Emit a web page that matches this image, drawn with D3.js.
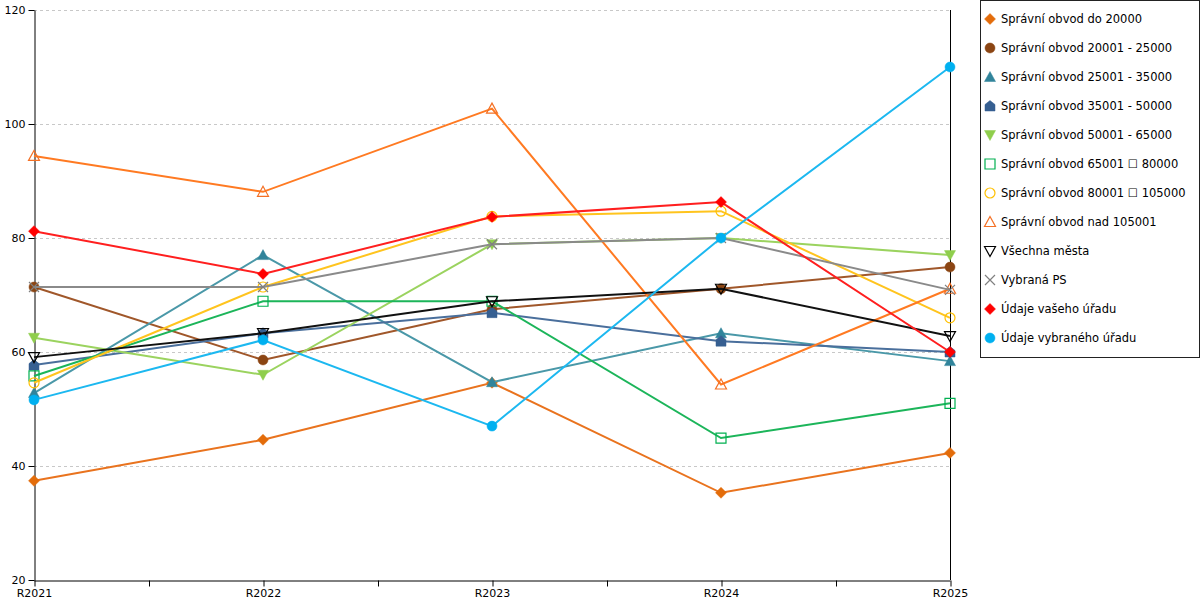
<!DOCTYPE html>
<html>
<head>
<meta charset="utf-8">
<script src="https://cdn.jsdelivr.net/npm/d3@7"></script>
<style>
  body { margin: 0; background: #fff; }
  svg { font-family: "DejaVu Sans", Verdana, sans-serif; }
  .grid line { stroke: #c8c8c8; stroke-dasharray: 3,3; }
</style>
</head>
<body>
<div id="chart"></div>
<script>
// data
var categories = ["R2021", "R2022", "R2023", "R2024", "R2025"];
var yTicks = [20, 40, 60, 80, 100, 120];

var seriesNames = [
  "Správní obvod do 20000",
  "Správní obvod 20001 - 25000",
  "Správní obvod 25001 - 35000",
  "Správní obvod 35001 - 50000",
  "Správní obvod 50001 - 65000",
  "Správní obvod 65001 \u2610 80000",
  "Správní obvod 80001 \u2610 105000",
  "Správní obvod nad 105001",
  "Všechna města",
  "Vybraná PS",
  "Údaje vašeho úřadu",
  "Údaje vybraného úřadu"
];

var do20000    = [37.4, 44.6, 54.6, 35.3, 42.3];
var s20_25     = [71.4, 58.6, 67.5, 71.1, 74.9];
var s25_35     = [52.8, 77.0, 54.7, 63.3, 58.4];
var s35_50     = [57.7, 63.3, 66.9, 61.9, 60.0];
var s50_65     = [62.5, 56.0, 78.9, 80.0, 77.0];
var s65_80     = [55.8, 68.9, 68.9, 44.9, 51.0];
var s80_105    = [54.6, 71.4, 83.8, 84.7, 66.0];
var nad105001  = [94.4, 88.1, 102.7, 54.3, 71.1];
var vsechna    = [59.1, 63.3, 68.9, 71.1, 62.8];
var vybranaPS  = [71.4, 71.4, 78.9, 80.0, 70.9];
var vasUrad    = [81.2, 73.7, 83.7, 86.3, 60.0];
var vybranyUrad = [51.6, 62.1, 47.0, 80.0, 110.0];

var seriesValues = [do20000, s20_25, s25_35, s35_50, s50_65, s65_80,
                    s80_105, nad105001, vsechna, vybranaPS, vasUrad, vybranyUrad];

// styles per series
var styles = [
  { line: "#e9731e", mark: "#e36c0a", shape: "diamond", fill: true },
  { line: "#a0572a", mark: "#8b4513", shape: "circle", fill: true },
  { line: "#4a98a8", mark: "#31849b", shape: "triUp", fill: true },
  { line: "#4a6f9c", mark: "#365f91", shape: "house", fill: true },
  { line: "#9bd35f", mark: "#8fce4c", shape: "triDown", fill: true },
  { line: "#1cb55a", mark: "#00b050", shape: "square", fill: false },
  { line: "#ffc41e", mark: "#ffc000", shape: "circle", fill: false },
  { line: "#ff7a22", mark: "#f47024", shape: "triUp", fill: false },
  { line: "#111111", mark: "#000000", shape: "triDown", fill: false },
  { line: "#8a8a8a", mark: "#808080", shape: "cross", fill: false },
  { line: "#ff1f1f", mark: "#ff0000", shape: "diamond", fill: true },
  { line: "#1cb8f0", mark: "#00b0f0", shape: "circle", fill: true }
];

function shapePath(shape) {
  var r = 5;
  switch (shape) {
    case "diamond": r = 5.5; return "M0," + (-r) + "L" + r + ",0L0," + r + "L" + (-r) + ",0Z";
    case "circle": return d3.arc()({ innerRadius: 0, outerRadius: r, startAngle: 0, endAngle: 2 * Math.PI });
    case "triUp": return "M0,-5.5L5.5,4.5L-5.5,4.5Z";
    case "triDown": return "M0,5.5L5.5,-4.5L-5.5,-4.5Z";
    case "house": return "M0,-5.5L5,-1.5L5,5L-5,5L-5,-1.5Z";
    case "square": return "M-5,-5L5,-5L5,5L-5,5Z";
    case "cross": return "M-5,-5L5,5M5,-5L-5,5";
  }
}

var width = 1200, height = 600;
var margin = { top: 10, right: 250, bottom: 20, left: 34 };

var svg = d3.select("#chart").append("svg")
    .attr("width", width)
    .attr("height", height);

var x = d3.scalePoint()
    .domain(categories)
    .range([margin.left, width - margin.right]);

var y = d3.scaleLinear()
    .domain([20, 120])
    .range([height - margin.bottom, margin.top]);

/* grid */
svg.append("g")
  .attr("class", "grid")
  .selectAll("line")
  .data(yTicks.slice(1))
  .enter().append("line")
    .attr("x1", margin.left)
    .attr("x2", width - margin.right)
    .attr("y1", function(d) { return Math.round(y(d)) + 0.5; })
    .attr("y2", function(d) { return Math.round(y(d)) + 0.5; });

/* axes */
var yAxis = svg.append("g")
    .attr("transform", "translate(" + (margin.left + 0.5) + ",0)")
    .call(d3.axisLeft(y).tickValues(yTicks).tickSize(6).tickSizeOuter(0));

// ticks between categories as well as on them
var xHalf = d3.scaleLinear()
    .domain([0, categories.length - 1])
    .range([margin.left, width - margin.right]);

var xAxis = svg.append("g")
    .attr("transform", "translate(0," + (height - margin.bottom + 0.5) + ")")
    .call(d3.axisBottom(xHalf)
      .tickValues(d3.range(0, categories.length - 0.5, 0.5))
      .tickSize(6)
      .tickSizeOuter(0)
      .tickFormat(function(d) { return d % 1 === 0 ? categories[d] : ""; }));

svg.selectAll(".tick text")
    .style("font-family", "'DejaVu Sans', Verdana, sans-serif")
    .style("font-size", "11px")
    .style("fill", "#000");
svg.selectAll(".domain, .tick line").style("stroke", "#000");
xAxis.selectAll(".tick line").attr("transform", "translate(0.5,0)");

// right border of plot
svg.append("line")
    .attr("x1", x(categories[categories.length - 1]) + 0.5)
    .attr("x2", x(categories[categories.length - 1]) + 0.5)
    .attr("y1", y(120))
    .attr("y2", y(20))
    .style("stroke", "#000");

/* series */
var line = d3.line()
    .x(function(d, i) { return x(categories[i]); })
    .y(function(d) { return y(d); });

var seriesG = svg.selectAll(".series")
  .data(seriesValues)
  .enter().append("g")
    .attr("class", "series");

seriesG.append("path")
    .attr("d", function(d) { return line(d); })
    .style("fill", "none")
    .style("stroke", function(d, i) { return styles[i].line; })
    .style("stroke-width", 2);

function drawMarker(sel, st) {
  sel.attr("d", shapePath(st.shape))
    .style("fill", st.fill ? st.mark : "#fff")
    .style("fill-opacity", st.fill ? 1 : 0)
    .style("stroke", st.mark)
    .style("stroke-width", st.fill ? 0.5 : 1.2);
}

seriesG.each(function(vals, si) {
  d3.select(this).selectAll(".mark")
    .data(vals)
    .enter().append("path")
      .attr("class", "mark")
      .attr("transform", function(d, i) { return "translate(" + x(categories[i]) + "," + y(d) + ")"; })
      .call(drawMarker, styles[si]);
});

/* Legend */
var legend = svg.append("g")
    .attr("transform", "translate(980,0)");

legend.append("rect")
    .attr("x", 0.5)
    .attr("y", 0.5)
    .attr("width", 219)
    .attr("height", 357)
    .style("fill", "#fff")
    .style("stroke", "#222");

var items = legend.selectAll(".item")
  .data(seriesNames)
  .enter().append("g")
    .attr("class", "item")
    .attr("transform", function(d, i) { return "translate(0," + (19 + i * 29) + ")"; });

items.append("path")
    .attr("transform", "translate(10,0)")
    .each(function(d, i) { d3.select(this).call(drawMarker, styles[i]); });

items.append("text")
    .attr("x", 21)
    .attr("y", 4)
    .style("font-size", "11.5px")
    .style("fill", "#000")
    .text(function(d) { return d; });
</script>
</body>
</html>
